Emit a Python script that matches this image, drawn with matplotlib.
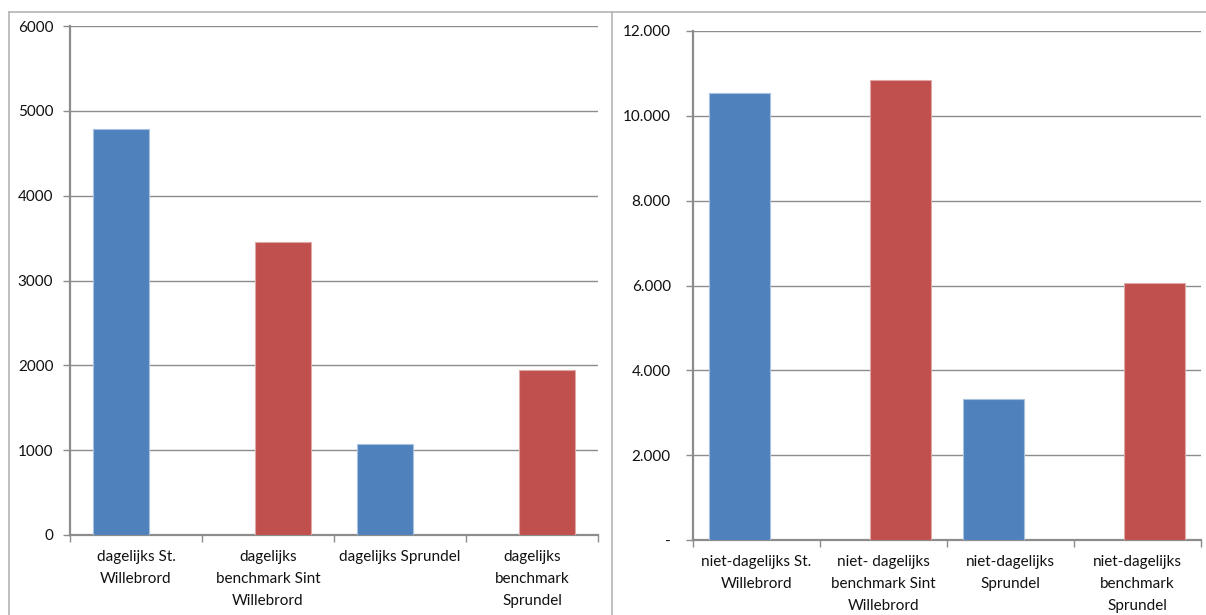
import numpy as np
import matplotlib
matplotlib.use("Agg")
import matplotlib.pyplot as plt
from matplotlib.ticker import FuncFormatter, FixedLocator
from matplotlib.lines import Line2D

plt.rcParams['font.family'] = ['Lato', 'DejaVu Sans']

# Daily shopping: local share vs. benchmark
left_categories = ["dagelijks St.\nWillebrord",
                   "dagelijks\nbenchmark Sint\nWillebrord",
                   "dagelijks Sprundel",
                   "dagelijks\nbenchmark\nSprundel"]
left_actual = [4780, np.nan, 1070, np.nan]
left_benchmark = [np.nan, 3450, np.nan, 1940]
left_ticks = [0, 1000, 2000, 3000, 4000, 5000, 6000]

# Non-daily shopping: local share vs. benchmark
right_categories = ["niet-dagelijks St.\nWillebrord",
                    "niet- dagelijks\nbenchmark Sint\nWillebrord",
                    "niet-dagelijks\nSprundel",
                    "niet-dagelijks\nbenchmark\nSprundel"]
right_actual = [10530, np.nan, 3320, np.nan]
right_benchmark = [np.nan, 10840, np.nan, 6060]
right_ticks = [0, 2000, 4000, 6000, 8000, 10000, 12000]

BLUE = "#4F81BD"
RED = "#C0504D"
GRID = "#8C8C8C"
BORDER = "#B4B4B4"

W, H = 1206, 615
fig = plt.figure(figsize=(W / 100, H / 100), dpi=100)


def px_axes(x0, y0, x1, y1):
    return fig.add_axes([x0 / W, 1 - y1 / H, (x1 - x0) / W, (y1 - y0) / H])


def draw_panel(ax, cats, a, b, ticks, fmt, width, offset, ypad):
    x = np.arange(len(cats))
    ax.bar(x - offset, a, width, color=BLUE, edgecolor="#A9C1E0", linewidth=0.8, zorder=3)
    ax.bar(x + offset, b, width, color=RED, edgecolor="#E0A9A8", linewidth=0.8, zorder=3)
    ax.set_xlim(-0.5, len(cats) - 0.5)
    ax.set_ylim(ticks[0], ticks[-1])
    ax.set_yticks(ticks)
    ax.yaxis.set_major_formatter(FuncFormatter(fmt))
    ax.yaxis.grid(True, color=GRID, linewidth=1.0, zorder=0)
    ax.set_axisbelow(True)
    # category labels centered, tick marks at category boundaries
    ax.set_xticks(x)
    ax.set_xticklabels(cats, fontsize=11, color="#111111", linespacing=1.72, va="top")
    ax.tick_params(axis="x", length=0, pad=11)
    ax.xaxis.set_minor_locator(FixedLocator(np.arange(len(cats) + 1) - 0.5))
    ax.tick_params(axis="x", which="minor", length=5, color=GRID, width=1.0, direction="out")
    ax.tick_params(axis="y", length=5, color=GRID, width=1.0, labelsize=11,
                   labelcolor="#111111", pad=ypad)
    for s in ("top", "right"):
        ax.spines[s].set_visible(False)
    for s in ("left", "bottom"):
        ax.spines[s].set_color(GRID)
        ax.spines[s].set_linewidth(1.6)
    ax.set_facecolor("none")


ax1 = px_axes(70, 26, 598, 535)
draw_panel(ax1, left_categories, left_actual, left_benchmark, left_ticks,
           lambda v, p: f"{int(v)}", 0.425, 0.115, 7)

ax2 = px_axes(693, 31, 1201, 540)
draw_panel(ax2, right_categories, right_actual, right_benchmark, right_ticks,
           lambda v, p: "-" if v == 0 else f"{int(v):,}".replace(",", "."),
           0.48, 0.133, 11)

# chart frames
def hline(x0, x1, y):
    fig.add_artist(Line2D([x0 / W, x1 / W], [1 - y / H, 1 - y / H], color=BORDER, linewidth=1.2))


def vline(x, y0, y1):
    fig.add_artist(Line2D([x / W, x / W], [1 - y0 / H, 1 - y1 / H], color=BORDER, linewidth=1.2))


hline(9, 1206, 12)
vline(9, 12, 615)
vline(612, 12, 615)

fig.savefig("out.png", dpi=100)
